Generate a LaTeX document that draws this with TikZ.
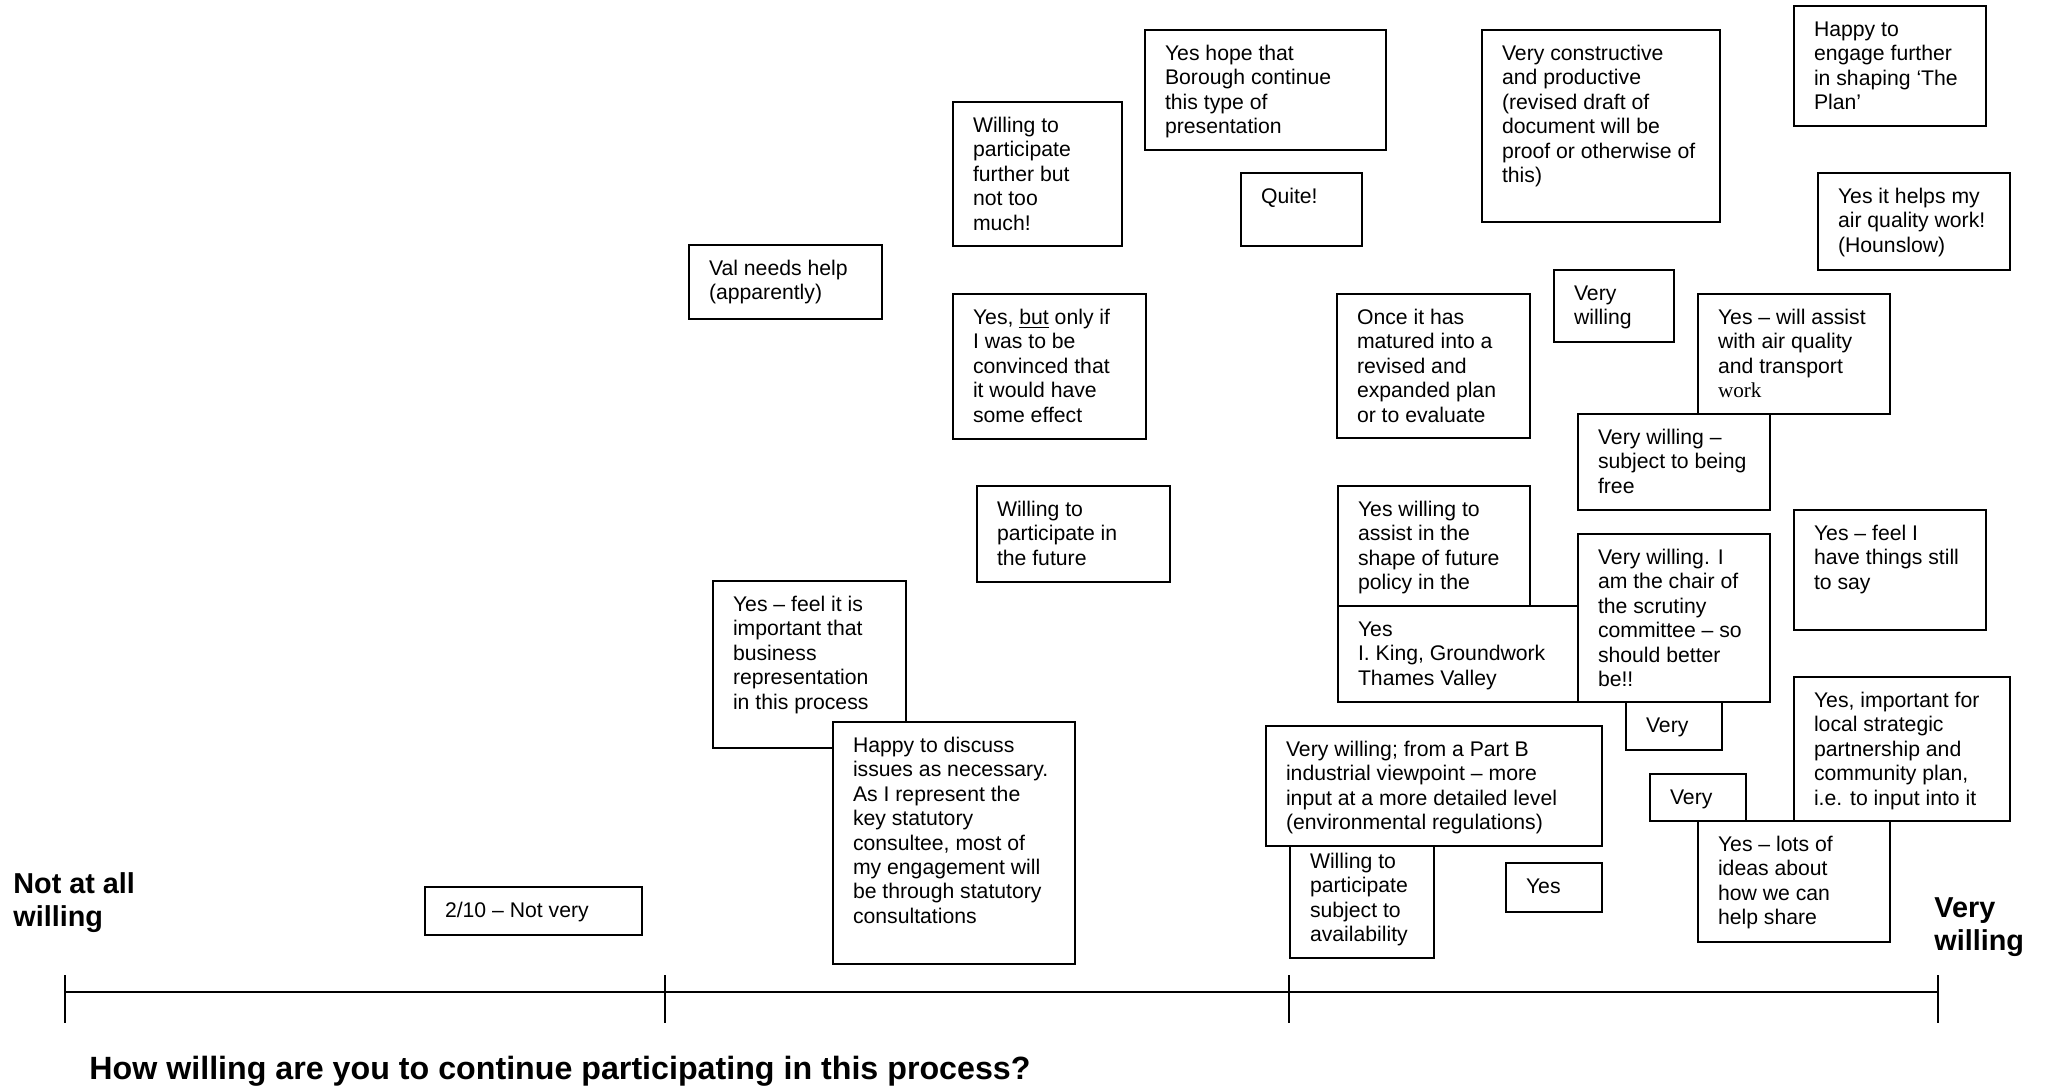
\documentclass[tikz,border=0pt]{standalone}
\usepackage{fontspec}
\setmainfont{Liberation Sans}
\newfontfamily\timesf{Liberation Serif}
\newcommand{\bt}[3]{\parbox[t][\dimexpr #2pt/2-13.42pt\relax][t]{\dimexpr #1pt/2\relax}{\raggedright\leftskip=10pt\strut #3}}
\begin{document}
\begin{tikzpicture}[x=0.5pt,y=-0.5pt,
  cbox/.style={draw, fill=white, line width=0.85pt, anchor=north west, inner xsep=0pt, inner ysep=6.71pt, outer sep=0pt, font=\fontsize{10.6}{12.2}\selectfont},
  scalelab/.style={font=\fontsize{14.4}{16.8}\selectfont\bfseries, align=left, inner sep=0pt, anchor=north west},
  axisline/.style={line width=1.2pt},
  tickline/.style={line width=0.7pt}]
\path[fill=white, use as bounding box] (0,0) rectangle (2045,1087);

% upper boxes
\node[cbox] (val) at (689,245) {\bt{193}{74}{Val needs help\\(apparently)}};
\node[cbox] (wfurther) at (953,102) {\bt{169}{144}{Willing to\\participate\\further but\\not too\\much!}};
\node[cbox] (yeshope) at (1145,30) {\bt{241}{120}{Yes hope that\\Borough continue\\this type of\\presentation}};
\node[cbox] (quite) at (1241,173) {\bt{121}{73}{Quite!}};
\node[cbox] (vconstr) at (1482,30) {\bt{238}{192}{Very constructive\\and productive\\(revised draft of\\document will be\\proof or otherwise of\\this)}};
\node[cbox] (happyeng) at (1794,6) {\bt{192}{120}{Happy to\\engage further\\in shaping ‘The\\Plan’}};
\node[cbox] (hounslow) at (1818,173) {\bt{192}{97}{Yes it helps my\\air quality work!\\(Hounslow)}};
\node[cbox] (yesbut) at (953,294) {\bt{193}{145}{Yes, \underline{but} only if\\I was to be\\convinced that\\it would have\\some effect}};
\node[cbox] (once) at (1337,294) {\bt{193}{144}{Once it has\\matured into a\\revised and\\expanded plan\\or to evaluate}};
\node[cbox] (vwill) at (1554,270) {\bt{120}{72}{Very\\willing}};
\node[cbox] (assist) at (1698,294) {\bt{192}{120}{Yes – will assist\\with air quality\\and transport\\{\timesf work}}};
\node[cbox] (vwfree) at (1578,414) {\bt{192}{96}{Very willing –\\subject to being\\free}};

% middle boxes
\node[cbox] (wfuture) at (977,486) {\bt{193}{96}{Willing to\\participate in\\the future}};
\node[cbox] (shape) at (1338,486) {\bt{192}{120}{Yes willing to\\assist in the\\shape of future\\policy in the}};
\node[cbox] (king) at (1338,606) {\bt{240}{96}{Yes\\I. King, Groundwork\\Thames Valley}};
\node[cbox] (chair) at (1578,534) {\bt{192}{168}{Very willing. I\\am the chair of\\the scrutiny\\committee – so\\should better\\be!!}};
\node[cbox] (feeli) at (1794,510) {\bt{192}{120}{Yes – feel I\\have things still\\to say}};
\node[cbox] (feelit) at (713,581) {\bt{193}{167}{Yes – feel it is\\important that\\business\\representation\\in this process}};
\node[cbox] (discuss) at (833,722) {\bt{242}{242}{Happy to discuss\\issues as necessary.\\As I represent the\\key statutory\\consultee, most of\\my engagement will\\be through statutory\\consultations}};

% lower boxes
\node[cbox] (very1) at (1626,702) {\bt{96}{48}{Very}};
\node[cbox] (wsubj) at (1290,838) {\bt{144}{120}{Willing to\\participate\\subject to\\availability}};
\node[cbox] (partb) at (1266,726) {\bt{336}{120}{Very willing; from a Part B\\industrial viewpoint – more\\input at a more detailed level\\(environmental regulations)}};
\node[cbox] (important) at (1794,677) {\bt{216}{144}{Yes, important for\\local strategic\\partnership and\\community plan,\\i.e. to input into it}};
\node[cbox] (very2) at (1650,774) {\bt{96}{47}{Very}};
\node[cbox] (lots) at (1698,821) {\bt{192}{121}{Yes – lots of\\ideas about\\how we can\\help share}};
\node[cbox] (yes) at (1506,863) {\bt{96}{49}{Yes}};
\node[cbox] (twoten) at (425,887) {\bt{217}{48}{2/10 – Not very}};

% scale labels
\node[scalelab] (notat) at (13,872) {Not at all\\willing};
\node[scalelab] (verywill) at (1934,897) {Very\\willing};

% axis
\coordinate (a0) at (65,992);
\coordinate (a1) at (665,992);
\coordinate (a2) at (1289,992);
\coordinate (a3) at (1938,992);
\draw[axisline] (a0) -- (a3);
\foreach \n in {a0,a1,a2,a3}{
  \draw[tickline] ([yshift=8.5pt]\n) -- ([yshift=-15.5pt]\n);
}

\node[font=\fontsize{16.1}{18}\selectfont\bfseries, anchor=base west, inner sep=0pt] (question) at (89,1079) {How willing are you to continue participating in this process?};
\end{tikzpicture}
\end{document}
